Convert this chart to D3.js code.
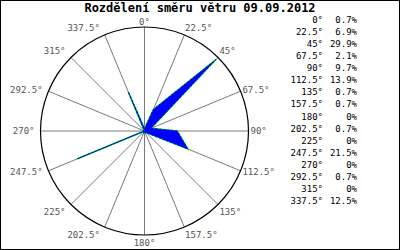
<!DOCTYPE html>
<html><head><meta charset="utf-8">
<script src="https://cdn.jsdelivr.net/npm/d3@7"></script>
<style>body{margin:0;background:#fff}svg{display:block}</style>
</head><body>
<script>
const title = "Rozdělení směru větru 09.09.2012";
const angles = [0,22.5,45,67.5,90,112.5,135,157.5,180,202.5,225,247.5,270,292.5,315,337.5];
const values = [0.7,6.9,29.9,2.1,9.7,13.9,0.7,0.7,0,0.7,0,21.5,0,0.7,0,12.5];
const angleLabels = ["0°","22.5°","45°","67.5°","90°","112.5°","135°","157.5°","180°","202.5°","225°","247.5°","270°","292.5°","315°","337.5°"];
const pctLabels = ["0.7%","6.9%","29.9%","2.1%","9.7%","13.9%","0.7%","0.7%","0%","0.7%","0%","21.5%","0%","0.7%","0%","12.5%"];
const rMax = 30.8;

const W=400,H=250, cx=144.5, cy=131, R=104;
const svg=d3.select("body").append("svg").attr("width",W).attr("height",H);
svg.append("rect").attr("x",0.5).attr("y",0.5).attr("width",W-1).attr("height",H-1).attr("fill","#fff").attr("stroke","#000");

const rs=d3.scaleLinear().domain([0,rMax]).range([0,R]);
const as=d3.scaleLinear().domain([0,360]).range([0,2*Math.PI]);
const g=svg.append("g").attr("transform",`translate(${cx},${cy})`);
const mono="'DejaVu Sans Mono', monospace";

// grid
angles.forEach(a=>{
  const t=as(a);
  g.append("line").attr("x1",0).attr("y1",0)
    .attr("x2",R*Math.sin(t)).attr("y2",-R*Math.cos(t))
    .attr("stroke","#7a7a7a").attr("stroke-width",1);
});
g.append("circle").attr("r",R).attr("fill","none").attr("stroke","#000").attr("stroke-width",1.2);

// labels
angles.forEach((a,i)=>{
  const t=as(a), s=Math.sin(t), c=Math.cos(t);
  let x=(R+2)*s, y=-(R+2)*c;
  let anchor="middle";
  if(s>0.2) anchor="start"; else if(s<-0.2){anchor="end"; x-=4;}
  let dy;
  if(c>0.5) dy=(c>0.95?0:-2); else if(c<-0.5) dy=9; else dy=3;
  g.append("text").attr("x",x).attr("y",y+dy).attr("text-anchor",anchor)
    .attr("font-family",mono).attr("font-size",9).attr("fill","#555").text(angleLabels[i]);
});

// data
const line=d3.lineRadial().angle((d,i)=>as(angles[i])).radius(d=>rs(d)).curve(d3.curveLinearClosed);
g.append("path").attr("d",line(values)).attr("fill","none").attr("stroke","#00dd00").attr("stroke-width",1.5);
g.append("path").attr("d",line(values)).attr("fill","#0000ff").attr("stroke","#0000ff").attr("stroke-width",1).attr("stroke-dasharray","2,2");

// title
svg.append("text").attr("x",200).attr("y",12).attr("text-anchor","middle")
  .attr("font-family",mono).attr("font-weight","bold").attr("font-size",12).attr("fill","#000").text(title);

// table
angles.forEach((a,i)=>{
  const y=23+i*12.07;
  svg.append("text").attr("x",323).attr("y",y).attr("text-anchor","end")
    .attr("font-family",mono).attr("font-size",9).attr("fill","#000").text(angleLabels[i]);
  svg.append("text").attr("x",357).attr("y",y).attr("text-anchor","end")
    .attr("font-family",mono).attr("font-size",9).attr("fill","#000").text(pctLabels[i]);
});
</script>
</body></html>
